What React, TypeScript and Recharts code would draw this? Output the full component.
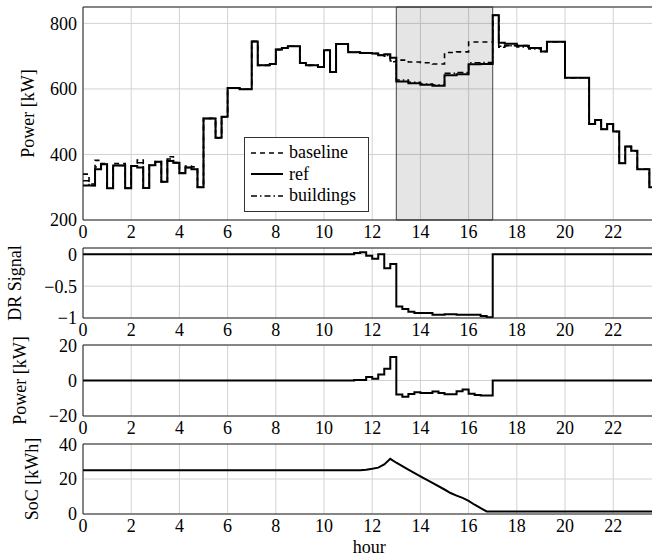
import {
  LineChart,
  Line,
  XAxis,
  YAxis,
  CartesianGrid,
  ReferenceArea,
  ReferenceLine,
  Legend,
} from 'recharts';

// x ticks shared by every panel (hour of day)
const hourTicks = [0, 2, 4, 6, 8, 10, 12, 14, 16, 18, 20, 22];

// top panel: step breakpoints [h] and power [kW]
const powerHours = [
  0, 0.25, 0.5, 0.75, 1, 1.25, 1.75, 2, 2.25, 2.5, 2.75, 3, 3.25, 3.5, 3.75, 4, 4.25, 4.5, 4.75,
  5, 5.5, 5.75, 6, 6.5, 7, 7.25, 7.75, 8, 8.25, 8.5, 9, 9.25, 9.75, 10, 10.25, 10.5, 11, 11.5,
  12, 12.25, 12.5, 12.75, 13, 13.5, 14, 14.5, 15, 15.5, 16, 16.5, 17, 17.25, 17.5, 18, 18.5,
  19, 19.25, 20, 21, 21.25, 21.5, 21.75, 22, 22.25, 22.5, 22.75, 23, 23.5, 23.75,
];
const refKw = [
  305, 305, 355, 370, 297, 366, 297, 365, 360, 298, 367, 378, 317, 380, 375, 343, 360, 355, 300,
  510, 451, 515, 603, 599, 745, 672, 676, 720, 725, 730, 679, 672, 667, 718, 652, 737, 712, 710,
  708, 703, 706, 695, 623, 617, 613, 610, 642, 645, 675, 676, 825, 741, 738, 732, 725,
  714, 744, 634, 493, 505, 477, 493, 470, 373, 424, 411, 355, 300, 300,
];
const baselineKw = [
  340, 310, 382, 372, 297, 372, 297, 365, 383, 298, 367, 378, 317, 393, 375, 343, 365, 362, 300,
  510, 451, 515, 603, 599, 745, 672, 676, 720, 725, 730, 679, 672, 667, 718, 652, 737, 712, 710,
  708, 703, 700, 683, 688, 682, 680, 676, 711, 713, 743, 743, 825, 730, 732, 732, 725,
  714, 744, 634, 493, 505, 477, 493, 470, 373, 424, 411, 355, 300, 300,
];
const buildingsKw = [
  320, 305, 362, 370, 297, 366, 297, 365, 375, 298, 367, 378, 317, 386, 375, 343, 360, 355, 300,
  510, 451, 515, 603, 599, 745, 672, 676, 720, 725, 730, 679, 672, 667, 718, 652, 737, 712, 710,
  708, 703, 702, 685, 627, 620, 615, 612, 648, 650, 680, 681, 825, 727, 732, 728, 722,
  714, 744, 634, 493, 505, 477, 493, 470, 373, 424, 411, 355, 300, 300,
];

// DR signal
const drHours = [0, 11.25, 11.5, 11.75, 12, 12.25, 12.5, 12.75, 13, 13.25, 13.5, 13.75, 14, 14.5, 15, 15.5, 16, 16.5, 16.75, 17, 23.75];
const drSignal = [0, 0.02, 0.035, -0.02, -0.07, 0, -0.22, -0.15, -0.82, -0.86, -0.9, -0.92, -0.92, -0.95, -0.94, -0.95, -0.95, -0.97, -0.99, 0, 0];

// battery power [kW]
const battHours = [0, 11.25, 11.75, 12, 12.25, 12.5, 12.75, 13, 13.25, 13.5, 13.75, 14, 14.5, 14.75, 15, 15.5, 15.75, 16, 16.25, 16.5, 17, 23.75];
const battKw = [0, 0.3, 2, 1, 3.4, 6.6, 13.2, -7.9, -9.2, -7.6, -6.6, -7, -6.2, -7, -7.8, -6, -5, -7.5, -8.2, -8.5, 0, 0];

// state of charge [kWh]
const socHours = [0, 11.5, 11.75, 12, 12.25, 12.5, 12.75, 13, 13.5, 14, 14.5, 15, 15.25, 15.5, 15.75, 16, 16.25, 16.5, 16.75, 23.75];
const socKwh = [25, 25, 25.3, 25.8, 26.5, 28.3, 31.5, 29.3, 25.3, 21.5, 17.8, 14, 12, 10.5, 9.2, 7.5, 5.3, 3.3, 1.5, 1.5];

const powerData = powerHours.map((t, i) => ({ t, ref: refKw[i], baseline: baselineKw[i], buildings: buildingsKw[i] }));
const drData = drHours.map((t, i) => ({ t, v: drSignal[i] }));
const battData = battHours.map((t, i) => ({ t, v: battKw[i] }));
const socData = socHours.map((t, i) => ({ t, v: socKwh[i] }));

const FONT = '"Liberation Serif", "Times New Roman", serif';
const W = 660;
const AXIS_W = 83;
const tickStyle = { fontSize: 18, fill: '#000', fontFamily: FONT };
const GRID = '#d2d2d2';
const FRAME = '#222';

const series = [
  { key: 'baseline', label: 'baseline', dash: '5 4', width: 1.6 },
  { key: 'ref', label: 'ref', dash: undefined, width: 2 },
  { key: 'buildings', label: 'buildings', dash: '6 3 1.5 3', width: 1.5 },
];

const minus = (v: number) => String(v).replace('-', '\u2212');

const sideLabel = (text: string, x: number) => (props: any) => {
  const vb = props.viewBox || {};
  const cy = vb.y + vb.height / 2;
  return (
    <text
      x={x}
      y={cy}
      transform={`rotate(-90, ${x}, ${cy})`}
      textAnchor="middle"
      dominantBaseline="central"
      fontSize={18}
      fontFamily={FONT}
      fill="#000"
    >
      {text}
    </text>
  );
};

// axis title under the last panel, placed relative to the x axis box
const hourLabel = (props: any) => {
  const vb = props.viewBox || {};
  return (
    <text x={vb.x + vb.width / 2} y={vb.y + 39} textAnchor="middle" fontSize={18} fontFamily={FONT} fill="#000">
      hour
    </text>
  );
};

const renderLegend = () => (
  <div
    style={{
      border: '1px solid #333',
      background: '#fff',
      padding: '4px 6px',
      fontFamily: FONT,
      fontSize: 18,
      lineHeight: '21.5px',
      boxSizing: 'border-box',
      width: 125,
    }}
  >
    {series.map((s) => (
      <div key={s.key} style={{ display: 'flex', alignItems: 'center' }}>
        <svg width={32} height={10} style={{ marginRight: 6 }}>
          <line x1={0} y1={5} x2={32} y2={5} stroke="#000" strokeWidth={s.width} strokeDasharray={s.dash} />
        </svg>
        <span>{s.label}</span>
      </div>
    ))}
  </div>
);

function hourAxis(height: number, label?: any) {
  return (
    <XAxis
      dataKey="t"
      type="number"
      domain={[0, 23.75]}
      ticks={hourTicks}
      allowDataOverflow
      tick={tickStyle}
      tickLine={false}
      tickSize={0}
      tickMargin={5}
      height={height}
      stroke={FRAME}
      label={label}
    />
  );
}

export default function App() {
  return (
    <div style={{ position: 'relative', width: 652, height: 560, overflow: 'hidden', background: '#fff' }}>
      <style>{'body{margin:0;overflow:hidden}'}</style>

      <div style={{ position: 'absolute', left: 0, top: 0 }}>
        <LineChart width={W} height={250} data={powerData} margin={{ top: 7, right: 4.6, bottom: 0, left: 0 }}>
          <CartesianGrid stroke={GRID} />
          {hourAxis(30)}
          <YAxis
            type="number"
            domain={[200, 850]}
            ticks={[200, 400, 600, 800]}
            allowDataOverflow
            width={AXIS_W}
            tick={tickStyle}
            tickLine={false}
            tickSize={0}
            tickMargin={6}
            stroke={FRAME}
            label={{ content: sideLabel('Power [kW]', 28) }}
          />
          <ReferenceArea x1={13} x2={17} fill="#000" fillOpacity={0.1} stroke="#444" strokeWidth={1} />
          <ReferenceLine y={850} stroke={FRAME} />
          {series.map((s) => (
            <Line
              key={s.key}
              dataKey={s.key}
              type="stepAfter"
              stroke="#000"
              strokeWidth={s.width}
              strokeDasharray={s.dash}
              dot={false}
              isAnimationActive={false}
            />
          ))}
          <Legend
            layout="vertical"
            align="center"
            verticalAlign="middle"
            wrapperStyle={{ left: 244, top: 137, width: 125 }}
            content={renderLegend}
          />
        </LineChart>
      </div>

      <div style={{ position: 'absolute', left: 0, top: 238 }}>
        <LineChart width={W} height={110} data={drData} margin={{ top: 10, right: 4.6, bottom: 0, left: 0 }}>
          <CartesianGrid stroke={GRID} />
          {hourAxis(30)}
          <YAxis
            type="number"
            domain={[-1, 0.1]}
            ticks={[-1, -0.5, 0]}
            allowDataOverflow
            width={AXIS_W}
            tick={tickStyle}
            tickFormatter={minus}
            tickLine={false}
            tickSize={0}
            tickMargin={6}
            stroke={FRAME}
            label={{ content: sideLabel('DR Signal', 15) }}
          />
          <ReferenceLine y={0.1} stroke={FRAME} />
          <Line dataKey="v" type="stepAfter" stroke="#000" strokeWidth={2} dot={false} isAnimationActive={false} />
        </LineChart>
      </div>

      <div style={{ position: 'absolute', left: 0, top: 335 }}>
        <LineChart width={W} height={111} data={battData} margin={{ top: 10, right: 4.6, bottom: 0, left: 0 }}>
          <CartesianGrid stroke={GRID} />
          {hourAxis(30)}
          <YAxis
            type="number"
            domain={[-20, 20]}
            ticks={[-20, -10, 0, 10, 20]}
            allowDataOverflow
            width={AXIS_W}
            tick={tickStyle}
            tickFormatter={minus}
            tickLine={false}
            tickSize={0}
            tickMargin={6}
            stroke={FRAME}
            label={{ content: sideLabel('Power [kW]', 20) }}
          />
          <ReferenceLine y={20} stroke={FRAME} />
          <Line dataKey="v" type="stepAfter" stroke="#000" strokeWidth={2} dot={false} isAnimationActive={false} />
        </LineChart>
      </div>

      <div style={{ position: 'absolute', left: 0, top: 434 }}>
        <LineChart width={W} height={126} data={socData} margin={{ top: 10, right: 4.6, bottom: 0, left: 0 }}>
          <CartesianGrid stroke={GRID} />
          {hourAxis(46, { content: hourLabel })}
          <YAxis
            type="number"
            domain={[0, 40]}
            ticks={[0, 10, 20, 30, 40]}
            allowDataOverflow
            width={AXIS_W}
            tick={tickStyle}
            tickLine={false}
            tickSize={0}
            tickMargin={6}
            stroke={FRAME}
            label={{ content: sideLabel('SoC [kWh]', 32) }}
          />
          <ReferenceLine y={40} stroke={FRAME} />
          <Line dataKey="v" type="linear" stroke="#000" strokeWidth={2} dot={false} isAnimationActive={false} />
        </LineChart>
      </div>
    </div>
  );
}
